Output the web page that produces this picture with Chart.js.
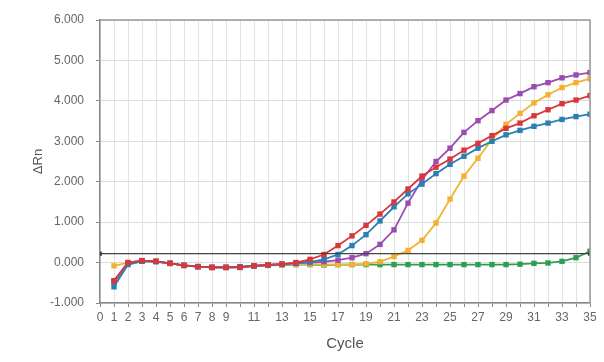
<!DOCTYPE html>
<html>
<head>
<meta charset="utf-8">
<script src="https://cdn.jsdelivr.net/npm/chart.js@4"></script>
<style>
  html, body { margin: 0; padding: 0; background: #fff; }
  #wrap { width: 604px; height: 362px; }
</style>
</head>
<body>
<div id="wrap"><canvas id="mychart"></canvas></div>
<script>
'use strict';

// cycle numbers 1..35
const cycles = [1, 2, 3, 4, 5, 6, 7, 8, 9, 10, 11, 12, 13, 14, 15, 16, 17, 18, 19, 20,
    21, 22, 23, 24, 25, 26, 27, 28, 29, 30, 31, 32, 33, 34, 35];

const redVals = [-0.45, 0.0, 0.05, 0.03, -0.02, -0.07, -0.1, -0.12, -0.12, -0.12, -0.08, -0.06,
    -0.04, 0.0, 0.08, 0.2, 0.42, 0.66, 0.92, 1.2, 1.5, 1.82, 2.14, 2.36, 2.56, 2.78, 2.95,
    3.14, 3.32, 3.45, 3.63, 3.78, 3.93, 4.02, 4.13];
const blueVals = [-0.6, -0.05, 0.03, 0.02, -0.02, -0.07, -0.1, -0.12, -0.12, -0.1, -0.08, -0.06,
    -0.04, -0.01, 0.02, 0.08, 0.2, 0.42, 0.69, 1.03, 1.38, 1.7, 1.94, 2.2, 2.43, 2.63, 2.83,
    3.0, 3.16, 3.27, 3.37, 3.45, 3.54, 3.61, 3.67];
const purpleVals = [-0.5, -0.02, 0.04, 0.03, -0.02, -0.07, -0.1, -0.12, -0.12, -0.11, -0.08, -0.06,
    -0.04, -0.02, 0.0, 0.02, 0.06, 0.12, 0.22, 0.45, 0.81, 1.47, 2.05, 2.5, 2.83, 3.22, 3.51,
    3.76, 4.02, 4.18, 4.35, 4.45, 4.57, 4.64, 4.7];
const orangeVals = [-0.08, 0.0, 0.04, 0.03, -0.02, -0.07, -0.1, -0.12, -0.12, -0.11, -0.08, -0.06,
    -0.05, -0.04, -0.04, -0.05, -0.05, -0.05, -0.03, 0.02, 0.15, 0.3, 0.55, 0.98, 1.57, 2.14, 2.58,
    3.05, 3.42, 3.69, 3.95, 4.15, 4.33, 4.45, 4.55];
const greenVals = [-0.45, 0.0, 0.04, 0.03, -0.02, -0.07, -0.1, -0.12, -0.12, -0.12, -0.09, -0.07,
    -0.06, -0.05, -0.05, -0.06, -0.05, -0.05, -0.05, -0.05, -0.05, -0.05, -0.05, -0.05, -0.05, -0.05, -0.05,
    -0.05, -0.05, -0.04, -0.02, -0.01, 0.03, 0.12, 0.28];

const threshold = 0.22;
const thresholdX = [0, 35];
const yTicks = [-1, 0, 1, 2, 3, 4, 5, 6];

function pts(vals) {
    return vals.map((v, i) => ({ x: cycles[i], y: v }));
}

function series(label, vals, color) {
    return {
        label: label,
        data: pts(vals),
        borderColor: color,
        backgroundColor: color,
        borderWidth: 1.8,
        pointStyle: 'rect',
        pointRadius: 3.8,
        pointBorderWidth: 0,
        tension: 0,
    };
}

const $canvas = document.getElementById('mychart');
const graph = new Chart($canvas, {
    type: 'line',
    data: {
        datasets: [
            series('A', redVals, '#d9363e'),
            series('B', blueVals, '#2b7fb3'),
            series('C', purpleVals, '#9a4db0'),
            series('D', orangeVals, '#f2b22f'),
            series('E', greenVals, '#2f9e55'),
            {
                label: 'Threshold',
                data: thresholdX.map(x => ({ x: x, y: threshold })),
                borderColor: '#444',
                backgroundColor: '#333',
                borderWidth: 1.2,
                pointStyle: 'rect',
                pointRadius: 2,
                order: -1,
            },
        ],
    },
    options: {
        responsive: true,
        maintainAspectRatio: false,
        animation: false,
        layout: { padding: { top: 20, right: 14, left: 27, bottom: 0 } },
        plugins: { legend: { display: false }, tooltip: { enabled: false } },
        scales: {
            x: {
                type: 'linear',
                min: 0,
                max: 35,
                afterFit: s => { s.height = 59; },
                afterBuildTicks: s => {
                    s.ticks = cycles.concat([0]).sort((a, b) => a - b).map(v => ({ value: v }));
                },
                ticks: {
                    autoSkip: false,
                    maxRotation: 0,
                    color: '#666',
                    font: { family: 'Liberation Sans', size: 12 },
                    padding: 3,
                    callback: v => (v <= 9 || v % 2 === 1) ? String(v) : '',
                },
                grid: { color: '#e2e2e2', tickLength: 4, tickColor: '#888' },
                border: { color: '#888', width: 1.5 },
                title: {
                    display: true,
                    text: 'Cycle',
                    color: '#555',
                    font: { family: 'Liberation Sans', size: 15 },
                    padding: { top: 2, bottom: 9 },
                },
            },
            y: {
                min: -1,
                max: 6,
                afterFit: s => { s.width = 73; },
                afterBuildTicks: s => { s.ticks = yTicks.map(v => ({ value: v })); },
                ticks: {
                    color: '#666',
                    font: { family: 'Liberation Sans', size: 12 },
                    padding: 12,
                    callback: v => v.toFixed(3),
                },
                grid: { color: '#dcdcdc', tickLength: 4, tickColor: '#888' },
                border: { color: '#888', width: 1.5 },
                title: {
                    display: true,
                    text: 'ΔRn',
                    color: '#555',
                    font: { family: 'Liberation Sans', size: 13 },
                    padding: { bottom: 4 },
                },
            },
        },
    },
    plugins: [{
        id: 'frame',
        afterDraw(chart) {
            const a = chart.chartArea, ctx = chart.ctx;
            ctx.save();
            ctx.strokeStyle = '#999';
            ctx.lineWidth = 1.5;
            ctx.beginPath();
            ctx.moveTo(a.left, a.top);
            ctx.lineTo(a.right, a.top);
            ctx.lineTo(a.right, a.bottom);
            ctx.stroke();
            ctx.restore();
        },
    }],
});
</script>
</body>
</html>
